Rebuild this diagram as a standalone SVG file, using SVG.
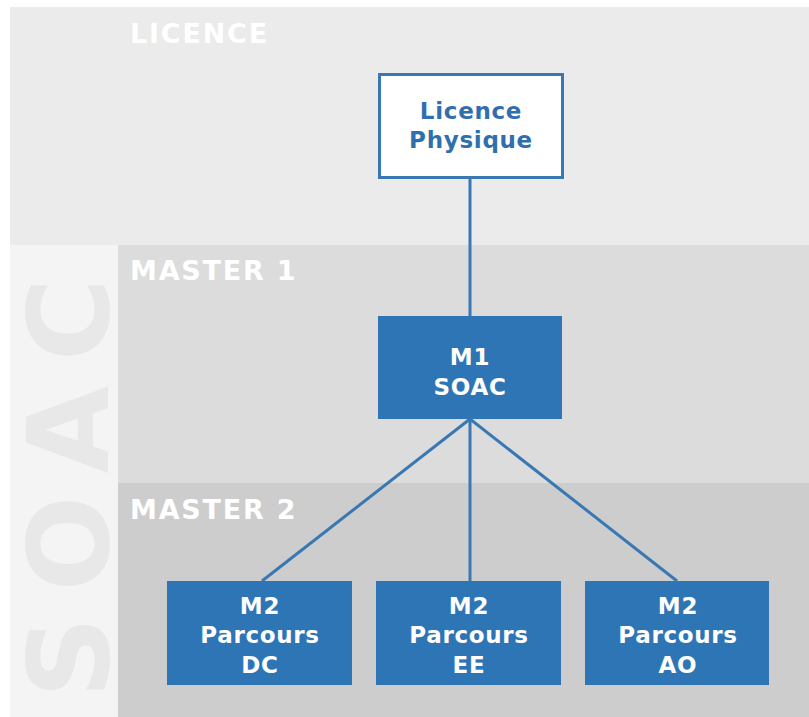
<svg xmlns="http://www.w3.org/2000/svg" width="809" height="717" viewBox="0 0 809 717">
<defs>
<style>
.band{font-family:"DejaVu Sans","Verdana",sans-serif;font-weight:bold;font-size:27px;fill:#ffffff;letter-spacing:1.8px}
.lbl{font-family:"DejaVu Sans","Verdana",sans-serif;font-weight:bold;font-size:23px;text-anchor:middle;letter-spacing:0.7px}
.w{fill:#ffffff}
.b{fill:#2f6fad}
.box{fill:#2e75b6}
.conn{stroke:#3a78b4;stroke-width:3;fill:none}
</style>
</defs>
<rect x="0" y="0" width="809" height="717" fill="#ffffff"/>
<g id="bands">
<rect x="10" y="7" width="799" height="238" fill="#ebebeb"/>
<rect x="10" y="245" width="108" height="472" fill="#f4f4f4"/>
<rect x="118" y="245" width="691" height="238" fill="#dcdcdc"/>
<rect x="118" y="483" width="691" height="234" fill="#cdcdcd"/>
<text class="band" x="130" y="43">LICENCE</text>
<text class="band" x="130" y="280">MASTER 1</text>
<text class="band" x="130" y="519">MASTER 2</text>
<text transform="translate(108,698) rotate(-90)" font-family="DejaVu Sans,Verdana,sans-serif" font-weight="bold" font-size="113" fill="#e8e8e8" letter-spacing="25">SOAC</text>
</g>
<g id="connectors">
<line class="conn" x1="470" y1="178" x2="470" y2="316"/>
<line class="conn" x1="470" y1="419" x2="262" y2="581"/>
<line class="conn" x1="470" y1="419" x2="470" y2="581"/>
<line class="conn" x1="470" y1="419" x2="677" y2="581"/>
</g>
<g id="licence">
<rect x="379.500" y="74.500" width="183" height="103" fill="#ffffff" stroke="#3a78b4" stroke-width="3"/>
<text class="lbl b" x="471" y="119">Licence</text>
<text class="lbl b" x="471" y="148">Physique</text>
</g>
<g id="m1">
<rect class="box" x="378" y="316" width="184" height="103"/>
<text class="lbl w" x="470" y="365">M1</text>
<text class="lbl w" x="470" y="395">SOAC</text>
</g>
<g id="m2dc">
<rect class="box" x="167" y="581" width="185" height="104"/>
<text class="lbl w" x="260" y="614">M2</text>
<text class="lbl w" x="260" y="643">Parcours</text>
<text class="lbl w" x="260" y="673">DC</text>
</g>
<g id="m2ee">
<rect class="box" x="376" y="581" width="185" height="104"/>
<text class="lbl w" x="469" y="614">M2</text>
<text class="lbl w" x="469" y="643">Parcours</text>
<text class="lbl w" x="469" y="673">EE</text>
</g>
<g id="m2ao">
<rect class="box" x="585" y="581" width="184" height="104"/>
<text class="lbl w" x="678" y="614">M2</text>
<text class="lbl w" x="678" y="643">Parcours</text>
<text class="lbl w" x="678" y="673">AO</text>
</g>
</svg>
